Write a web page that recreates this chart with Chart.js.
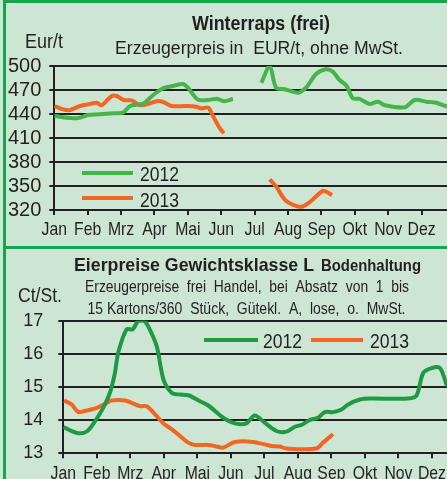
<!DOCTYPE html>
<html lang="de">
<head>
<meta charset="UTF-8">
<title>Winterraps / Eierpreise</title>
<script src="https://cdn.jsdelivr.net/npm/chart.js"></script>
<style>
  html, body { margin: 0; padding: 0; }
  body {
    width: 447px; height: 479px; position: relative; overflow: hidden;
    background: #cde6d4;
  }
  canvas { position: absolute; left: 0; }
  #rapsChart { top: 0; }
  #eggChart { top: 249px; }
  .bar { position: absolute; background: #17a54b; }
</style>
</head>
<body>
<div class="bar" style="left:3px;top:0;width:3px;height:479px"></div>
<div class="bar" style="left:3px;top:0;width:444px;height:3px"></div>
<div class="bar" style="left:3px;top:246px;width:444px;height:3px"></div>
<canvas id="rapsChart" width="447" height="246"></canvas>
<canvas id="eggChart" width="447" height="230"></canvas>
<script>
const monthLabels = ['Jan', 'Feb', 'Mrz', 'Apr', 'Mai', 'Jun', 'Jul', 'Aug', 'Sep', 'Okt', 'Nov', 'Dez'];

// Winterraps, EUR/t  (x = months since 1 Jan)
const rapsMonths2012 = [0, 0.67, 1.01, 1.37, 1.76, 2.06, 2.27, 2.66, 2.96, 3.25, 3.55, 3.85, 4.0, 4.3, 4.6, 4.87, 5.08, 5.35,
  5.8,
  6.2, 6.45, 6.64, 6.9, 7.3, 7.54, 7.84, 8.13, 8.34, 8.54, 8.74, 8.94, 9.14, 9.44, 9.69, 9.89, 10.49, 10.79, 11.14, 11.44, 11.76];
const rapsPrice2012 = [437.5, 434.6, 438.7, 439.6, 441, 441.7, 450, 453, 463.7, 472, 475, 477.5, 473, 458, 457.5, 459, 456, 458.7,
  null,
  479, 500, 473, 471, 466.7, 473, 490, 496, 493, 482.5, 476, 459.6, 459, 452.5, 455.4, 451, 448.3, 457.5, 455.4, 454, 449];

const rapsMonths2013 = [0, 0.27, 0.47, 0.77, 1.07, 1.27, 1.42, 1.72, 1.87, 2.07, 2.32, 2.57, 2.77, 3.07, 3.26, 3.51, 3.96, 4.26, 4.41, 4.61, 4.76, 4.96, 5.08,
  5.8,
  6.45, 6.65, 6.9, 7.1, 7.4, 7.65, 8.04, 8.14, 8.32];
const rapsPrice2013 = [450, 445.8, 445, 450, 452.5, 454, 451, 462.5, 462.5, 457.5, 457, 451, 452, 456, 455, 450, 450, 449, 447, 448, 436.7, 422, 416,
  null,
  358.3, 349, 333, 327.5, 324, 330, 344, 343, 338.7];

// Eierpreise Gewichtsklasse L, Ct/St.
const eggMonths2012 = [0, 0.25, 0.5, 0.72, 0.95, 1.19, 1.39, 1.54, 1.64, 1.89, 2.07, 2.24, 2.41, 2.54, 2.79, 2.99, 3.24, 3.48, 3.73, 4.08, 4.33,
  4.77, 5.12, 5.46, 5.71, 6.01, 6.36, 6.66, 6.91, 7.1, 7.35, 7.6, 7.8, 8.05, 8.3, 8.5, 8.85, 9.15, 10.29, 10.54, 10.74, 10.99, 11.24, 11.45];
const eggPrice2012 = [13.79, 13.67, 13.6, 13.67, 13.97, 14.37, 14.82, 15.42, 16.04, 16.74, 16.74, 17.0, 17.0, 16.82, 16.22, 15.22, 14.82, 14.77, 14.75, 14.57, 14.44,
  14.07, 13.9, 13.9, 14.14, 13.92, 13.67, 13.65, 13.8, 13.85, 14.0, 14.07, 14.24, 14.24, 14.32, 14.47, 14.62, 14.65, 14.65, 14.74, 15.42, 15.57, 15.57, 15.02];

const eggMonths2013 = [0.02, 0.25, 0.45, 0.7, 1.0, 1.3, 1.44, 1.84, 2.04, 2.29, 2.49, 2.74, 2.99, 3.24, 3.48, 3.73, 3.93, 4.33, 4.58,
  4.77, 5.12, 5.66, 6.21, 6.46, 6.66, 7.55, 7.75, 8.05];
const eggPrice2013 = [14.59, 14.47, 14.24, 14.29, 14.37, 14.52, 14.59, 14.59, 14.52, 14.42, 14.42, 14.17, 13.9, 13.72, 13.52, 13.32, 13.25, 13.25, 13.2,
  13.17, 13.34, 13.34, 13.22, 13.2, 13.14, 13.14, 13.32, 13.57];

const ink = '#231f20';
const orange = '#f26522';
const fontFamily = '"Liberation Sans", Arial, sans-serif';

function toPoints(months, values) {
  return months.map((m, i) => ({ x: m, y: values[i] }));
}

// draw text squeezed horizontally: either to a target width or by factor k
function fitText(ctx, text, x, y, font, width, align, k) {
  ctx.save();
  ctx.font = font;
  ctx.fillStyle = ink;
  ctx.textBaseline = 'alphabetic';
  ctx.textAlign = 'left';
  const w = ctx.measureText(text).width;
  if (!k) k = width ? width / w : 1;
  let left = x;
  if (align === 'center') left = x - w * k / 2;
  ctx.translate(left, y);
  ctx.scale(k, 1);
  ctx.fillText(text, 0, 0);
  ctx.restore();
}

function legendLine(ctx, x1, x2, y, color) {
  ctx.save();
  ctx.strokeStyle = color;
  ctx.lineWidth = 4;
  ctx.beginPath();
  ctx.moveTo(x1, y);
  ctx.lineTo(x2, y);
  ctx.stroke();
  ctx.restore();
}

// month names under the x ticks, narrow like the original
function monthNames(chart, baseline) {
  const sx = chart.scales.x;
  monthLabels.forEach((m, i) => {
    fitText(chart.ctx, m, sx.getPixelForValue(i), baseline, '19px ' + fontFamily, 0, 'center', 0.83);
  });
}

function lineSet(points, color) {
  return {
    data: points,
    borderColor: color,
    borderWidth: 4,
    pointRadius: 0,
    tension: 0.3,
    spanGaps: false,
    fill: false
  };
}

function axes(xMax, xHeight, yMin, yMax, yStep, yWidth, yPad, ySize) {
  return {
    x: {
      type: 'linear', min: 0, max: xMax,
      afterFit: s => { s.height = xHeight; },
      grid: { drawOnChartArea: false, drawTicks: true, tickLength: 5, color: ink, lineWidth: 2 },
      border: { color: ink, width: 2 },
      ticks: {
        stepSize: 1, includeBounds: false, autoSkip: false, maxRotation: 0,
        color: 'rgba(0,0,0,0)', font: { family: fontFamily, size: 12 },
        callback: v => monthLabels[v]
      }
    },
    y: {
      min: yMin, max: yMax,
      afterFit: s => { s.width = yWidth; },
      grid: { color: ink, lineWidth: 2, tickLength: 5 },
      border: { color: ink, width: 2 },
      ticks: { stepSize: yStep, autoSkip: false, padding: yPad, color: ink, font: { family: fontFamily, size: ySize } }
    }
  };
}

const rapsText = {
  id: 'rapsText',
  afterDraw(chart) {
    const ctx = chart.ctx;
    fitText(ctx, 'Winterraps (frei)', 261, 30, 'bold 20px ' + fontFamily, 138, 'center');
    fitText(ctx, 'Erzeugerpreis in  EUR/t, ohne MwSt.', 259, 54, '18px ' + fontFamily, 288, 'center');
    fitText(ctx, 'Eur/t', 25, 48, '20px ' + fontFamily, 38);
    legendLine(ctx, 82, 133, 173, '#45b549');
    fitText(ctx, '2012', 140, 181, '20px ' + fontFamily, 39);
    legendLine(ctx, 82, 133, 198, orange);
    fitText(ctx, '2013', 140, 207, '20px ' + fontFamily, 39);
    monthNames(chart, 235);
  }
};

const eggText = {
  id: 'eggText',
  afterDraw(chart) {
    const ctx = chart.ctx;
    fitText(ctx, 'Eierpreise Gewichtsklasse L', 74, 22, 'bold 19px ' + fontFamily, 240);
    fitText(ctx, 'Bodenhaltung', 321, 22, 'bold 16px ' + fontFamily, 100);
    fitText(ctx, 'Erzeugerpreise  frei  Handel,  bei  Absatz  von  1  bis', 247, 43, '16px ' + fontFamily, 324, 'center');
    fitText(ctx, '15 Kartons/360  Stück,  Gütekl.  A,  lose,  o.  MwSt.', 246.5, 65, '16px ' + fontFamily, 318, 'center');
    fitText(ctx, 'Ct/St.', 18, 53, '20px ' + fontFamily, 44);
    legendLine(ctx, 204, 258, 91, '#1f9a44');
    fitText(ctx, '2012', 263, 99, '20px ' + fontFamily, 39);
    legendLine(ctx, 311, 363, 91, orange);
    fitText(ctx, '2013', 370, 99, '20px ' + fontFamily, 39);
    monthNames(chart, 229.5);
  }
};

new Chart(document.getElementById('rapsChart'), {
  type: 'line',
  data: {
    datasets: [
      lineSet(toPoints(rapsMonths2012, rapsPrice2012), '#45b549'),
      lineSet(toPoints(rapsMonths2013, rapsPrice2013), orange)
    ]
  },
  options: {
    responsive: false,
    animation: false,
    devicePixelRatio: 1,
    layout: { padding: { top: 66, left: 0, right: 0, bottom: 0 } },
    plugins: { legend: { display: false }, tooltip: { enabled: false } },
    scales: axes(11.76, 36, 320, 500, 30, 54.3, 8, 20)
  },
  plugins: [rapsText]
});

new Chart(document.getElementById('eggChart'), {
  type: 'line',
  data: {
    datasets: [
      lineSet(toPoints(eggMonths2012, eggPrice2012), '#1f9a44'),
      lineSet(toPoints(eggMonths2013, eggPrice2013), orange)
    ]
  },
  options: {
    responsive: false,
    animation: false,
    devicePixelRatio: 1,
    layout: { padding: { top: 71.7, left: 0, right: 0, bottom: 0 } },
    plugins: { legend: { display: false }, tooltip: { enabled: false } },
    scales: axes(11.45, 25, 13, 17, 1, 63.3, 15, 18)
  },
  plugins: [eggText]
});
</script>
</body>
</html>
